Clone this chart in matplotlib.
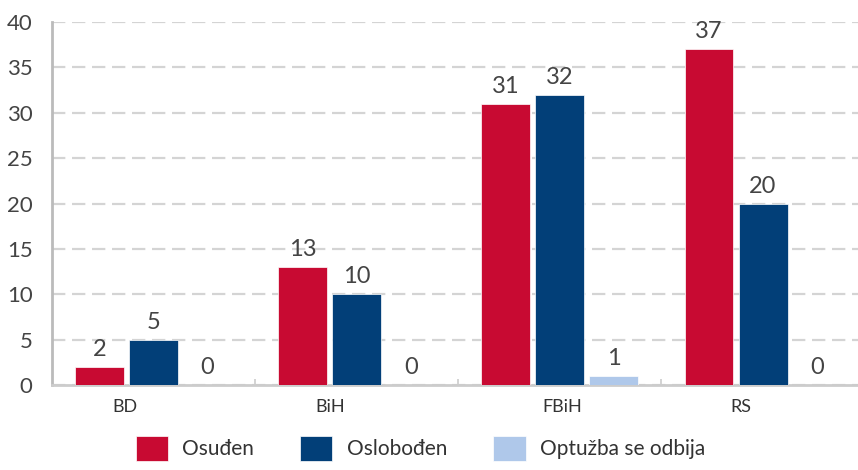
import numpy as np
import matplotlib.pyplot as plt

# Podaci
kategorije = ['BD', 'BiH', 'FBiH', 'RS']
osudjen = [2, 13, 31, 37]
oslobodjen = [5, 10, 32, 20]
odbija = [0, 0, 1, 0]
serije = ['Osuđen', 'Oslobođen', 'Optužba se odbija']
boje = ['#C80A32', '#023F78', '#AFC8EA']

plt.rcParams['font.family'] = ['Lato', 'DejaVu Sans']

fig = plt.figure(figsize=(8.58, 4.70), dpi=100)
ax = fig.add_axes([0.0606, 0.181, 0.94, 0.772])

x = np.arange(len(kategorije))
w = 0.241
korak = 0.266
for i, (vals, boja, ime) in enumerate(zip([osudjen, oslobodjen, odbija], boje, serije)):
    pos = x + (i - 1) * korak
    bars = ax.bar(pos, vals, width=w, color=boja, label=ime, zorder=3,
                  edgecolor='white', linewidth=0.5)
    for b, v in zip(bars, vals):
        ax.annotate(str(v), (b.get_x() + b.get_width() / 2, v),
                    xytext=(0, 5), textcoords='offset points',
                    ha='center', va='bottom', fontsize=17, color='#444444')

ax.set_xlim(-0.5, 3.47)
ax.set_ylim(0, 40)
ax.set_yticks(range(0, 41, 5))
ax.yaxis.grid(True, linestyle=(0, (6, 3)), color='#d4d4d4', linewidth=1.6, zorder=0)
ax.tick_params(axis='y', length=0, pad=14, labelsize=16, labelcolor='#444444')

# oznake kategorija
ax.set_xticks(x + np.array([-0.14, -0.13, 0.01, -0.11]))
ax.set_xticklabels(kategorije)
ax.tick_params(axis='x', length=0, pad=10, labelsize=13, labelcolor='#333333')
ax.set_xticks(x[:-1] + 0.5, minor=True)
ax.tick_params(axis='x', which='minor', length=4, direction='in', color='#cccccc', width=1.2)

for s in ['top', 'right']:
    ax.spines[s].set_visible(False)
ax.spines['left'].set_color('#bbbbbb')
ax.spines['left'].set_linewidth(2)
ax.spines['bottom'].set_color('#cccccc')
ax.spines['bottom'].set_linewidth(2)

leg = fig.legend(loc='upper left', bbox_to_anchor=(0.158, 0.072), ncol=3, frameon=False,
                 fontsize=15, handlelength=1.55, handleheight=1.45, handletextpad=0.7,
                 columnspacing=2.2, labelcolor='#333333', borderaxespad=0, borderpad=0)

fig.savefig('out.png', dpi=100)
